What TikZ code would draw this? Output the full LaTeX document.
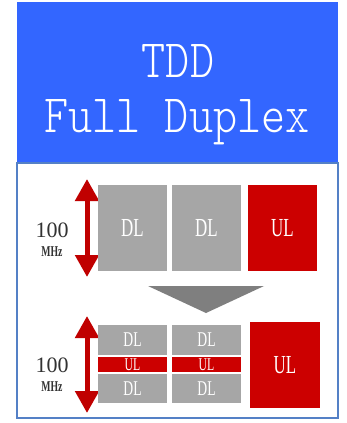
\documentclass[tikz,border=0pt]{standalone}
\usepackage{fontspec}
\usetikzlibrary{arrows.meta}
\newfontfamily\titlefont{lmmonolt10-regular.otf}[FakeStretch=0.85]
\newfontfamily\boxfont{Liberation Serif}[FakeStretch=0.65]
\newfontfamily\numfont{Liberation Serif}
\definecolor{tddblue}{RGB}{51,102,255}
\definecolor{frameblue}{RGB}{84,128,198}
\definecolor{dlgray}{RGB}{166,166,166}
\definecolor{ulred}{RGB}{204,0,0}
\definecolor{arrowred}{RGB}{192,0,0}
\definecolor{trigray}{RGB}{127,127,127}
\definecolor{numgray}{RGB}{50,50,50}
\begin{document}
\begin{tikzpicture}[x=1pt, y=-1pt,
    dlbox/.style={fill=dlgray, text=white, inner sep=0pt, font=\boxfont\fontsize{#1}{#1}\selectfont},
    ulbox/.style={fill=ulred, text=white, inner sep=0pt, font=\boxfont\fontsize{#1}{#1}\selectfont},
    bwarrow/.style={arrowred, line width=5pt, {Triangle[width=23pt,length=22pt]}-{Triangle[width=23pt,length=22pt]}},
    numlabel/.style={numgray, inner sep=0pt, anchor=base, font=\numfont\fontsize{22}{22}\selectfont},
    unitlabel/.style={numgray, inner sep=0pt, anchor=base, font=\boxfont\bfseries\fontsize{15}{15}\selectfont}]
    \useasboundingbox (0,0) rectangle (347,423);
    % header
    \node (header) [fill=tddblue, inner sep=0pt, minimum width=321pt, minimum height=161pt] at (177.5,82.5) {};
    \node (title1) [text=white, inner sep=0pt, anchor=base, font=\titlefont\fontsize{54}{54}\selectfont] at (178,77) {TDD};
    \node (title2) [text=white, inner sep=0pt, anchor=base, font=\titlefont\fontsize{54}{54}\selectfont] at (177,132) {Full Duplex};
    % panel
    \node (panel) [draw=frameblue, line width=2pt, fill=white, inner sep=0pt, minimum width=321pt, minimum height=255pt] at (177.5,290.5) {};
    % first row
    \coordinate (a1top) at (87,179);
    \coordinate (a1bot) at (87,277);
    \draw[bwarrow] (a1top) -- (a1bot);
    \node (bw1) [numlabel] at (52,237) {100};
    \node (mhz1) [unitlabel] at (52,256) {MHz};
    \node (dl1) [dlbox=26, minimum width=69pt, minimum height=86pt] at (132.5,228) {DL};
    \node (dl2) [dlbox=26, minimum width=69pt, minimum height=86pt] at (206.5,228) {DL};
    \node (ul1) [ulbox=26, minimum width=69pt, minimum height=86pt] at (282.5,228) {UL};
    % down triangle
    \fill[trigray] (148,286) -- (264,286) -- (206,313) -- cycle;
    % second row
    \coordinate (a2top) at (87,316);
    \coordinate (a2bot) at (87,413);
    \draw[bwarrow] (a2top) -- (a2bot);
    \node (bw2) [numlabel] at (52,372) {100};
    \node (mhz2) [unitlabel] at (52,391) {MHz};
    \node (dl3) [dlbox=21, minimum width=69pt, minimum height=30pt] at (132.5,340) {DL};
    \node (ul2) [ulbox=18, minimum width=69pt, minimum height=15pt] at (132.5,364.5) {UL};
    \node (dl4) [dlbox=21, minimum width=69pt, minimum height=29pt] at (132.5,388.5) {DL};
    \node (dl5) [dlbox=21, minimum width=69pt, minimum height=30pt] at (206.5,340) {DL};
    \node (ul3) [ulbox=18, minimum width=69pt, minimum height=15pt] at (206.5,364.5) {UL};
    \node (dl6) [dlbox=21, minimum width=69pt, minimum height=29pt] at (206.5,388.5) {DL};
    \node (ul4) [ulbox=26, minimum width=70pt, minimum height=86pt] at (285,365) {UL};
\end{tikzpicture}
\end{document}
